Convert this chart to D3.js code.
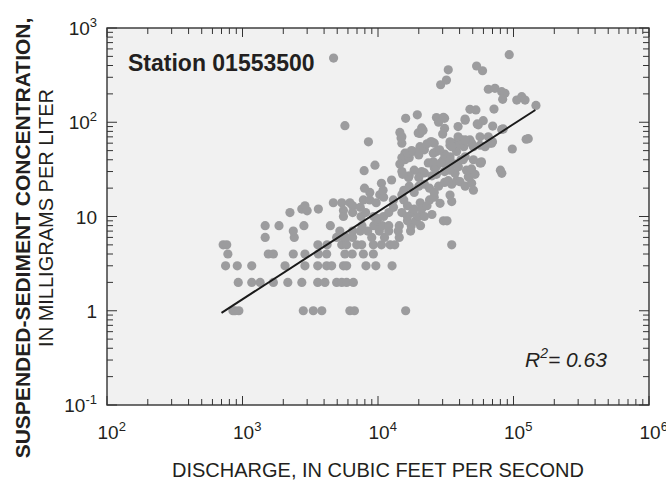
<!DOCTYPE html>
<html><head><meta charset="utf-8">
<script src="https://cdn.jsdelivr.net/npm/d3@7"></script>
<style>
html,body{margin:0;padding:0;background:#fff;}
svg text{font-family:"Liberation Sans Narrow","Liberation Sans",Arial,sans-serif;fill:#231f20;}
</style></head>
<body><svg id="c" width="666" height="489"></svg>
<script>
// discharge (cubic feet per second)
const discharge = [
850,880,940,2810,3330,3850,6200,6700,16000,
930,1170,1350,1690,2160,2740,3590,4060,4950,5400,5870,6580,
750,915,1170,2060,2890,3590,4180,4550,5560,5870,8150,9640,12700,
780,1550,1690,2370,2890,3630,4180,5700,6450,7800,9240,
720,765,3600,4210,5400,5870,6970,7580,9240,10600,12300,13300,35000,
1470,2410,4950,5560,5820,6500,8990,11170,14350,
2370,5230,6500,7400,8400,10230,12000,14100,17400,
1470,1860,2840,4450,7620,9310,10770,12000,14350,17600,20600,
9800,16500,19000,30400,32300,
2240,2740,2890,3000,3630,4680,5400,5560,5560,6200,6500,6500,7400,7500,8100,7800,8700,9300,9700,10000,11000,12000,13000,15000,15500,16500,16500,18000,18500,20000,20500,21000,22000,23000,25000,28700,34000,35000,24000,26000,13000,10300,11000,8700,
7950,10600,10900,12600,15000,16800,21000,15000,15500,17000,18500,20000,22000,24000,26000,28000,31000,33000,35000,38000,40300,44000,46400,49100,50600,47000,52000,37000,39200,31000,27000,25000,22000,20000,18500,17000,15200,26000,27000,45000,49000,34000,7900,9500,80000,82000,56600,58000,
37000,41000,44000,34000,31000,27000,38000,43000,30400,33000,50600,57500,34000,32000,42500,25600,25600,28500,35900,40000,15800,17700,20400,15800,15000,17000,14500,16500,18000,20500,22000,20000,23500,29000,34000,40300,49100,56600,67000,41500,47700,56600,65200,69000,50600,61700,15000,15000,20400,24900,24500,26000,23000,8500,34000,35000,39000,44000,124000,128500,98000,70000,
14500,14800,19800,21000,21500,31000,30000,5700,39000,44000,43900,59800,55000,70200,81800,84000,54000,16000,19500,27000,31000,28000,30400,47700,52800,71800,
4700,93000,53400,59100,33000,29000,32000,65200,73000,81800,86500,83200,105700,115000,121700,146500
];
// suspended-sediment concentration (mg/L)
const concentration = [
1,1,1,1,1,1,1,1,1,
2,2,2,2,2,2,2,2,2,2,2,2,
3,3,3,3,3,3,3,3,3,3,3,3,3,
4,4,4,4,4,4,4,4,4,4,4,
5,5,5,5,5,5,5,5,5,5,5,5,5,
6,6,6,6,6,6,6,6,6,
7,7,7,7,7,7,7,7,7,
8,8,8,8,8,8,8,8,8,8,8,
9,9,9,9,9,
11,12,13,11.5,12,14,14,11.6,10,14,13,11,12.5,10,11,15,15,10,14,9.5,10,11,12.5,11,15,13,10,11,12,10,14,12,10,13,10.5,13.8,16.9,14.4,15,16,15,17,16,18,
20,22.5,19,24.4,30,26,30,17,19,21,18,21,22,20,18,21,23,24,22,24,23.4,21,26.4,22.5,19,26,28,28.7,33.7,30,28,27,29,26,31,27,28,33,34,31,32,31,30.6,35,31,28.7,37,38,
36,40,43,43,46,49,49,55,40,35,40,37,40,35,40,47,38,51,60,65,47,50,55,40,42,42,36,47,49,53,51,45,37,37,57,58,60,57,60,65,65,70,70,60,55,55,70,60,76,62,62,60,59,62,62,55,70,65,66,67,52,62,
78,68,77,87,82,86,75,92,90,105,108,104,94,91,84,85,96,110,120,112,110,100,113,137,135,138,
480,521,395,352,360,250,280,224,229,211,203,175,172,187,172,151
];
// regression line end points
const fitDischarge = [700, 145000];
const fitConcentration = [0.95, 135];
const xDecades = [2,3,4,5,6];
const yDecades = [-1,0,1,2,3];
const yTickText = [["10","-1"],["1",""],["10",""],["10","2"],["10","3"]];
const stationLabel = "Station 01553500";
const xTitle = "DISCHARGE, IN CUBIC FEET PER SECOND";
const yTitle1 = "SUSPENDED-SEDIMENT CONCENTRATION,";
const yTitle2 = "IN MILLIGRAMS PER LITER";

const svg = d3.select("#c");
const L=107,R=649,T=28,B=405;
const x = d3.scaleLog().domain([1e2,1e6]).range([L,R]);
const y = d3.scaleLog().domain([0.1,1000]).range([B,T]);

svg.append("rect").attr("x",L).attr("y",T).attr("width",R-L).attr("height",B-T).attr("fill","#f1f1f1");

const pts = discharge.map((d,i)=>[d,concentration[i]]);
svg.append("g").selectAll("circle").data(pts).join("circle")
  .attr("cx",d=>x(d[0])).attr("cy",d=>y(d[1])).attr("r",4.6).attr("fill","#9c9c9e");

svg.append("line").attr("x1",x(fitDischarge[0])).attr("y1",y(fitConcentration[0]))
  .attr("x2",x(fitDischarge[1])).attr("y2",y(fitConcentration[1]))
  .attr("stroke","#1a1a1a").attr("stroke-width",2);

// ticks
const tg = svg.append("g").attr("stroke","#333").attr("stroke-width",1);
function ticksFor(decades){
  const out=[];
  for(let i=0;i<decades.length;i++){
    const d=decades[i];
    for(let k=1;k<=9;k++){
      if(i===decades.length-1 && k>1) break;
      out.push({v:k*Math.pow(10,d),major:k===1});
    }
  }
  return out;
}
ticksFor(xDecades).forEach(t=>{
  const px=x(t.v), len=t.major?9:6;
  tg.append("line").attr("x1",px).attr("x2",px).attr("y1",B).attr("y2",B-len);
  tg.append("line").attr("x1",px).attr("x2",px).attr("y1",T).attr("y2",T+len);
});
ticksFor(yDecades).forEach(t=>{
  const py=y(t.v), len=t.major?10:6;
  tg.append("line").attr("x1",L).attr("x2",L+len).attr("y1",py).attr("y2",py);
  tg.append("line").attr("x1",R).attr("x2",R-len).attr("y1",py).attr("y2",py);
});
svg.append("rect").attr("x",L).attr("y",T).attr("width",R-L).attr("height",B-T)
  .attr("fill","none").attr("stroke","#333").attr("stroke-width",1.4);

// x tick labels
xDecades.forEach(d=>{
  const t=svg.append("text").attr("x",x(Math.pow(10,d))-9.5).attr("y",B+34).attr("font-size",19);
  t.append("tspan").text("10");
  t.append("tspan").attr("dy",-8).attr("font-size",13).text(String(d));
});
// y tick labels
yDecades.forEach((d,i)=>{
  const [b,e]=yTickText[i];
  const t=svg.append("text").attr("x",97).attr("y",y(Math.pow(10,d))+7).attr("font-size",19).attr("text-anchor","end");
  t.append("tspan").text(b);
  if(e) t.append("tspan").attr("dy",-8).attr("font-size",13).text(e);
});

svg.append("text").attr("x",128).attr("y",71).attr("font-size",23).attr("font-weight","bold")
  .style("font-family","'Liberation Sans',Arial,sans-serif").text(stationLabel);

const r2=svg.append("text").attr("x",525).attr("y",367).attr("font-size",21).attr("font-style","italic");
r2.append("tspan").text("R");
r2.append("tspan").attr("dy",-9).attr("font-size",14).text("2");
r2.append("tspan").attr("dy",9).text("= 0.63");

svg.append("text").attr("x",378).attr("y",477).attr("font-size",20).attr("text-anchor","middle")
  .style("font-family","'Liberation Sans',Arial,sans-serif").text(xTitle);
svg.append("text").attr("transform","translate(30,238) rotate(-90)").attr("font-size",21).attr("font-weight","bold")
  .attr("text-anchor","middle").style("font-family","'Liberation Sans',Arial,sans-serif").text(yTitle1);
svg.append("text").attr("transform","translate(53,218) rotate(-90)").attr("font-size",20)
  .attr("text-anchor","middle").style("font-family","'Liberation Sans',Arial,sans-serif").text(yTitle2);
</script></body></html>
